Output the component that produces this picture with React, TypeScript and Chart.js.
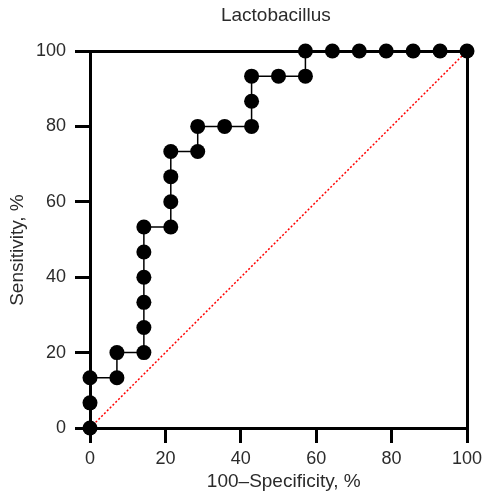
import React, { useEffect, useRef } from 'react';
import { Chart, registerables } from 'chart.js';

Chart.register(...registerables);

// 100 - specificity (%) and sensitivity (%) of the ROC curve steps
const fpr = [0, 0, 0, 7.14, 7.14, 14.29, 14.29, 14.29, 14.29, 14.29, 14.29, 21.43, 21.43, 21.43, 21.43, 28.57, 28.57, 35.71, 42.86, 42.86, 42.86, 50, 57.14, 57.14, 64.29, 71.43, 78.57, 85.71, 92.86, 100];
const tpr = [0, 6.67, 13.33, 13.33, 20, 20, 26.67, 33.33, 40, 46.67, 53.33, 53.33, 60, 66.67, 73.33, 73.33, 80, 80, 80, 86.67, 93.33, 93.33, 93.33, 100, 100, 100, 100, 100, 100, 100];
// reference (chance) line
const refX = [0, 100];
const refY = [0, 100];
const xTicks = [0, 20, 40, 60, 80, 100];
const yTicks = [0, 20, 40, 60, 80, 100];
const chartTitle = 'Lactobacillus ';
const xTitle = '  100–Specificity, %';
const yTitle = 'Sensitivity, %    ';

const FONT = '"Liberation Sans", Arial, Helvetica, sans-serif';
const TEXT = '#2b2b2b';

export default function App() {
  const ref = useRef<HTMLCanvasElement | null>(null);

  useEffect(() => {
    const canvas = ref.current;
    if (!canvas) return;
    const tickFont = { family: FONT, size: 18 };
    const titleFont = { family: FONT, size: 19 };
    const noPadH = (s: any) => { s.paddingLeft = 0; s.paddingRight = 0; };
    const noPadV = (s: any) => { s.paddingTop = 0; s.paddingBottom = 0; };
    const chart = new Chart(canvas, {
      type: 'scatter',
      data: {
        datasets: [
          {
            data: fpr.map((x, i) => ({ x, y: tpr[i] })),
            showLine: true,
            borderColor: '#000',
            borderWidth: 1.5,
            backgroundColor: '#000',
            pointBackgroundColor: '#000',
            pointBorderWidth: 0,
            pointRadius: 7.5,
            pointHoverRadius: 7.5,
            clip: false,
            order: 0,
          },
          {
            data: refX.map((x, i) => ({ x, y: refY[i] })),
            showLine: true,
            borderColor: '#ff0000',
            borderWidth: 1.5,
            borderDash: [2, 2],
            pointRadius: 0,
            clip: false,
            order: 1,
          },
        ],
      },
      options: {
        responsive: false,
        animation: false,
        events: [],
        layout: { padding: 0, autoPadding: false },
        plugins: { legend: { display: false }, tooltip: { enabled: false }, title: { display: false } },
        scales: {
          x: {
            type: 'linear',
            position: 'bottom',
            min: 0,
            max: 100,
            afterBuildTicks: (s: any) => { s.ticks = xTicks.map((v) => ({ value: v })); },
            afterFit: (s: any) => { s.height = 65; noPadH(s); },
            border: { display: true, color: '#000', width: 3 },
            grid: { display: true, drawOnChartArea: false, drawTicks: true, tickLength: 15, lineWidth: 3, color: '#000' },
            ticks: { font: tickFont, color: TEXT, padding: 5, maxRotation: 0 },
            title: { display: true, text: xTitle, font: titleFont, color: TEXT, padding: { top: 0, bottom: 0 } },
          },
          y: {
            type: 'linear',
            position: 'left',
            min: 0,
            max: 100,
            afterBuildTicks: (s: any) => { s.ticks = yTicks.map((v) => ({ value: v })); },
            afterFit: (s: any) => { s.width = 90; noPadV(s); },
            border: { display: true, color: '#000', width: 3 },
            grid: { display: true, drawOnChartArea: false, drawTicks: true, tickLength: 15, lineWidth: 3, color: '#000' },
            ticks: { font: tickFont, color: TEXT, padding: 9 },
            title: { display: true, text: yTitle, font: titleFont, color: TEXT, padding: { top: 6, bottom: 0 } },
          },
          x2: {
            type: 'linear',
            position: 'top',
            min: 0,
            max: 100,
            afterFit: (s: any) => { s.height = 51; noPadH(s); },
            border: { display: true, color: '#000', width: 3 },
            grid: { display: true, drawOnChartArea: false, drawTicks: false, lineWidth: 3, color: '#000' },
            ticks: { display: false },
            title: { display: true, text: chartTitle, font: titleFont, color: TEXT, padding: { top: 4.6, bottom: 0 } },
          },
          y2: {
            type: 'linear',
            position: 'right',
            min: 0,
            max: 100,
            afterFit: (s: any) => { s.width = 15; noPadV(s); },
            border: { display: true, color: '#000', width: 3 },
            grid: { display: true, drawOnChartArea: false, drawTicks: false, lineWidth: 3, color: '#000' },
            ticks: { display: false },
          },
        },
      } as any,
    });
    return () => chart.destroy();
  }, []);

  return (
    <div style={{ position: 'fixed', left: 0, top: 0, width: 482, height: 493, background: '#fff' }}>
      <canvas ref={ref} width={482} height={493} style={{ display: 'block', width: 482, height: 493 }} />
    </div>
  );
}
